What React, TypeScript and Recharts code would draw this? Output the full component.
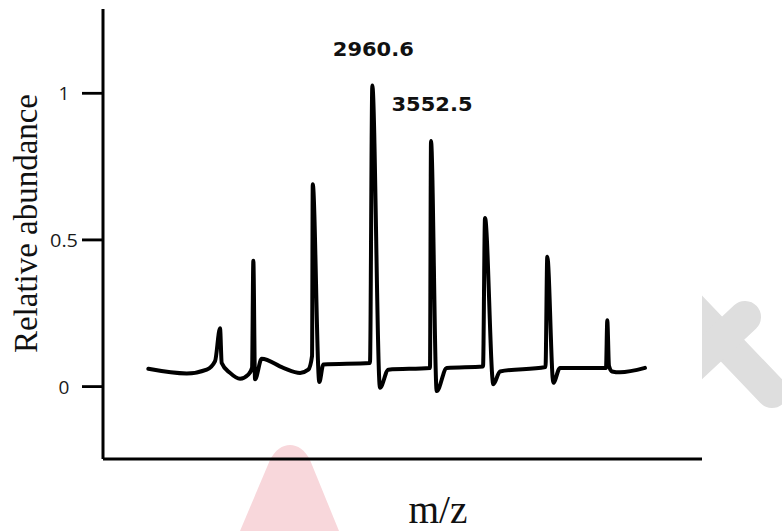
import React from 'react';
import { LineChart, Line, XAxis, YAxis, ReferenceDot } from 'recharts';

// m/z positions of the traced spectrum (anchored on the two labelled peaks)
const mzValues = [
  702, 1089, 1291, 1375, 1425, 1442, 1526, 1627, 1710, 1748, 1761, 1778, 1845, 2063,
  2232, 2315, 2353, 2360, 2426, 2467, 2937, 2960.6, 3038, 3122, 3542, 3552.5, 3610,
  3711, 4077, 4097, 4181, 4248, 4707, 4725, 4786, 4853, 5317, 5330, 5347, 5378, 5458, 5710,
];
// relative abundance at each m/z position
const abundance = [
  0.061, 0.045, 0.058, 0.087, 0.199, 0.081, 0.047, 0.027, 0.041, 0.064, 0.429, 0.025, 0.095, 0.064,
  0.047, 0.058, 0.105, 0.69, 0.016, 0.076, 0.081, 1.026, -0.004, 0.058, 0.064, 0.837, -0.015,
  0.064, 0.069, 0.575, 0.008, 0.052, 0.067, 0.443, 0.013, 0.064, 0.064, 0.226, 0.071, 0.052, 0.049, 0.064,
];
const yTicks = [0, 0.5, 1];
const yTickLabels = ['0', '0.5', '1'];
const labelledPeaks = [2960.6, 3552.5];
const labelledPeakTexts = ['2960.6', '3552.5'];
const xDomain = [245, 6285];
const yDomain = [-0.2464, 1.2869];
const xTitle = 'm/z';
const yTitle = 'Relative abundance';

const data = mzValues.map((mz, i) => ({ mz, y: abundance[i] }));

const TICK_LEN = 21;

const YTick = (props: any) => {
  const { x, y, payload } = props;
  const idx = yTicks.indexOf(payload.value);
  const txt = idx >= 0 ? yTickLabels[idx] : String(payload.value);
  const lineEnd = 103;
  return (
    <g className="custom-y-tick">
      <path d={`M${lineEnd - TICK_LEN},${y}H${lineEnd}`} stroke="#000" strokeWidth={2.5} fill="none" />
      <text
        x={64}
        y={y}
        textAnchor="middle"
        dominantBaseline="central"
        fontFamily="'Open Sans', sans-serif"
        fontSize={19}
        fill="#1a1a1a"
        {...(txt.length > 1 ? { textLength: 28, lengthAdjust: 'spacingAndGlyphs' } : {})}
      >
        {txt}
      </text>
    </g>
  );
};

const peakLabelShape = (text: string) => (p: any) => (
  <text
    x={p.cx + 1}
    y={p.cy - 30}
    textAnchor="middle"
    fontFamily="'DejaVu Sans', sans-serif"
    fontWeight="bold"
    fontSize={20}
    fill="#111"
    textLength={81}
    lengthAdjust="spacingAndGlyphs"
  >
    {text}
  </text>
);

export default function App() {
  return (
    <div style={{ position: 'absolute', left: 0, top: 0, width: 782, height: 531, background: '#fff' }}>
      <svg width={782} height={531} style={{ position: 'absolute', left: 0, top: 0 }}>
        <defs>
          <clipPath id="wmclip">
            <rect x={702} y={0} width={80} height={531} />
          </clipPath>
        </defs>
        <path d="M240 531 L270 460 C280 440 300 440 310 460 L339 531 Z" fill="#f8d7db" />
        <g clipPath="url(#wmclip)" stroke="#dedede" strokeWidth={32} strokeLinecap="round">
          <line x1={670} y1={285} x2={772} y2={392} />
          <line x1={745} y1={317} x2={680} y2={378} />
        </g>
      </svg>
      <div style={{ position: 'absolute', left: 0, top: 0 }}>
        <LineChart width={782} height={531} data={data} margin={{ top: 9, right: 80, bottom: 71, left: 102 }}>
          <XAxis
            dataKey="mz"
            type="number"
            domain={xDomain}
            allowDataOverflow
            height={1}
            tick={false}
            tickLine={false}
            axisLine={{ stroke: '#000', strokeWidth: 3 }}
            label={{
              content: () => (
                <text
                  x={438}
                  y={523}
                  textAnchor="middle"
                  fontFamily="'Liberation Serif', serif"
                  fontSize={39}
                  fill="#111"
                  textLength={59}
                  lengthAdjust="spacingAndGlyphs"
                >
                  {xTitle}
                </text>
              ),
            }}
          />
          <YAxis
            type="number"
            domain={yDomain}
            allowDataOverflow
            ticks={yTicks}
            width={1}
            tickSize={TICK_LEN}
            tick={YTick}
            tickLine={{ stroke: '#000', strokeWidth: 2.5 }}
            stroke="#000"
            axisLine={{ stroke: '#000', strokeWidth: 3 }}
            label={{
              content: () => (
                <text
                  x={37}
                  y={223.5}
                  transform="rotate(-90 37 223.5)"
                  textAnchor="middle"
                  fontFamily="'Liberation Serif', serif"
                  fontSize={33}
                  fill="#111"
                  textLength={259}
                  lengthAdjust="spacingAndGlyphs"
                >
                  {yTitle}
                </text>
              ),
            }}
          />
          <Line
            dataKey="y"
            type="monotone"
            stroke="#000"
            strokeWidth={4}
            strokeLinejoin="round"
            strokeLinecap="round"
            dot={false}
            activeDot={false}
            isAnimationActive={false}
          />
          {labelledPeaks.map((mz, i) => (
            <ReferenceDot
              key={mz}
              x={mz}
              y={abundance[mzValues.indexOf(mz)]}
              r={1}
              ifOverflow="visible"
              shape={peakLabelShape(labelledPeakTexts[i])}
            />
          ))}
        </LineChart>
      </div>
    </div>
  );
}
